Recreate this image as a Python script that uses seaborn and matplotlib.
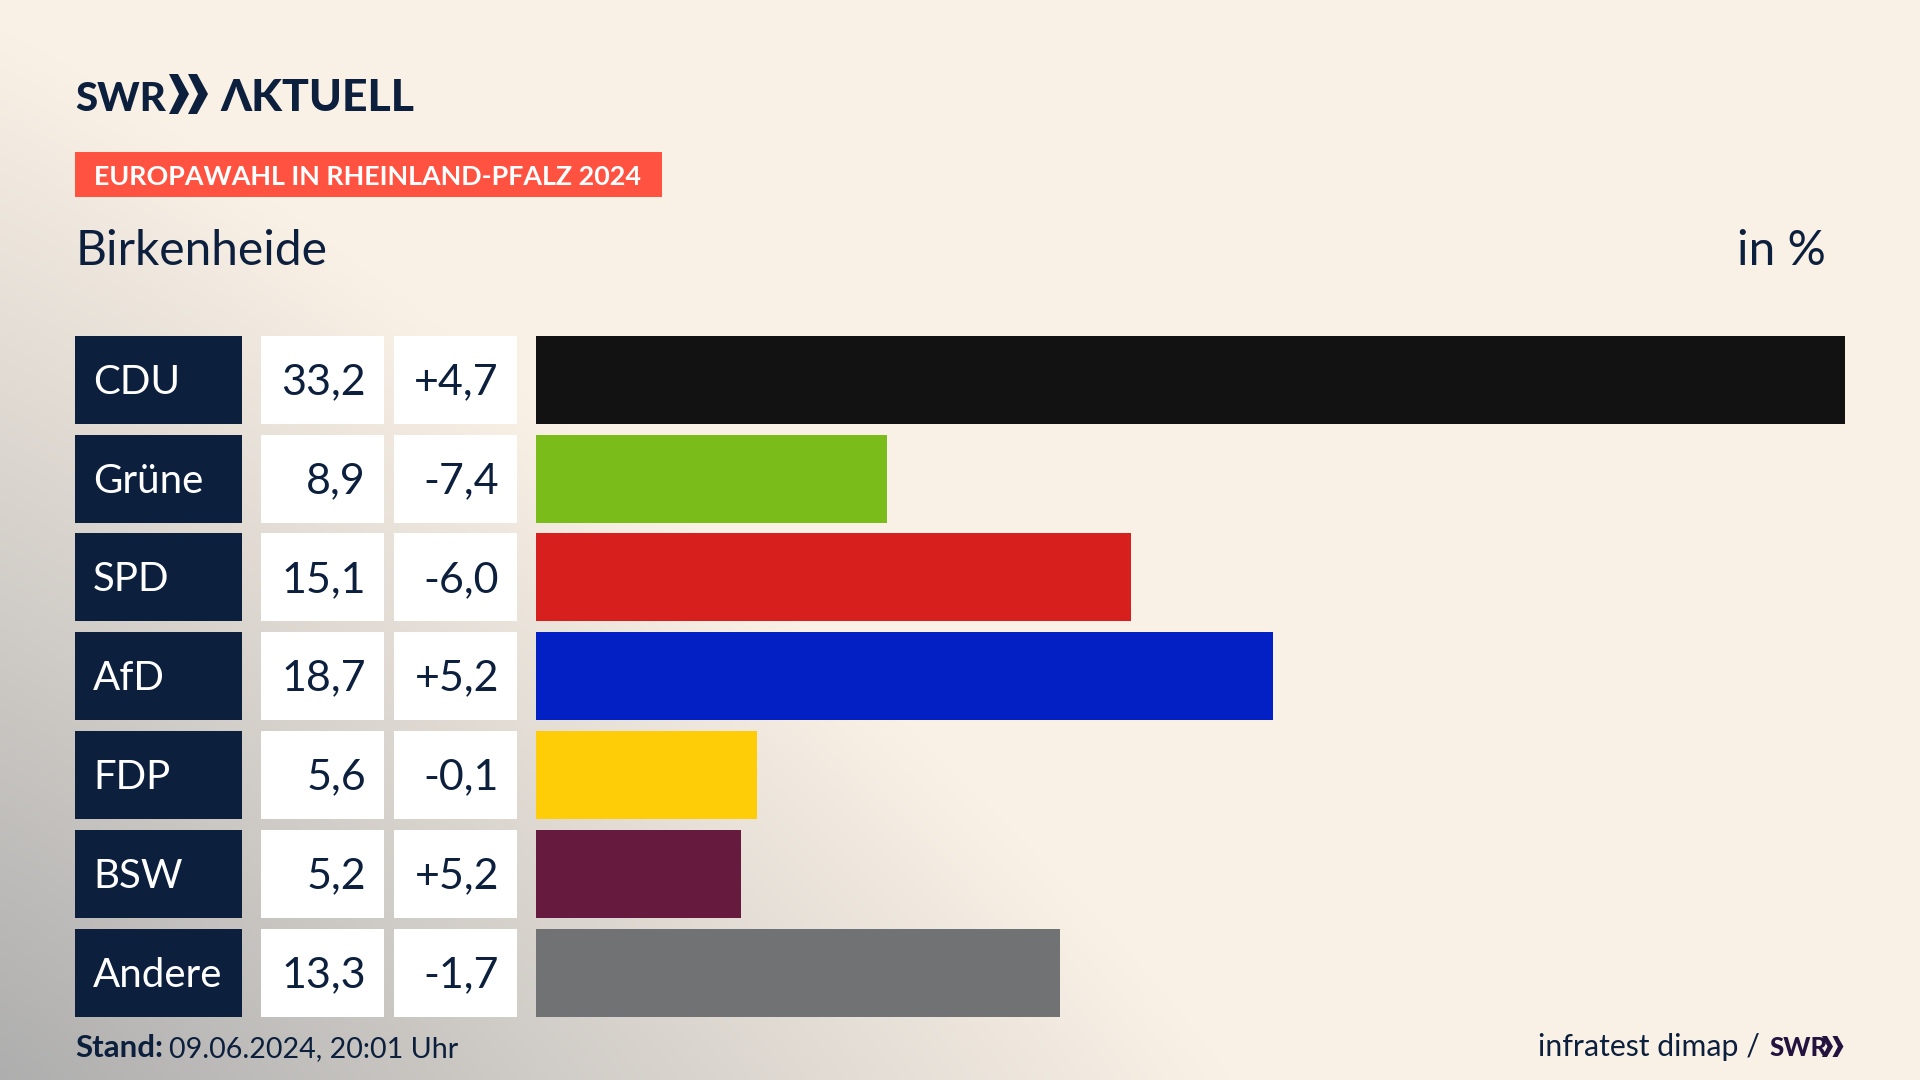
import numpy as np
import pandas as pd
import seaborn as sns
import matplotlib.pyplot as plt
from matplotlib.patches import Rectangle, Polygon

parties = ['CDU', 'Grüne', 'SPD', 'AfD', 'FDP', 'BSW', 'Andere']
results = [33.2, 8.9, 15.1, 18.7, 5.6, 5.2, 13.3]
changes = [4.7, -7.4, -6.0, 5.2, -0.1, 5.2, -1.7]
colors = ['#121212', '#7ABD1A', '#D7201E', '#0320C4', '#FFCC08', '#661A3E', '#707274']

NAVY = '#0C1F3D'
sns.set_theme(style='white')
plt.rcParams['font.family'] = ['Lato', 'DejaVu Sans']

W, H = 1920, 1080
fig = plt.figure(figsize=(W / 100, H / 100), dpi=100)

# page in pixel coordinates
page = fig.add_axes([0, 0, 1, 1])
page.set_xlim(0, W)
page.set_ylim(H, 0)
page.axis('off')

# grey glow from the bottom left corner
xx, yy = np.meshgrid(np.arange(W), np.arange(H))
dist = ((xx / 1230) ** 1.13 + ((H - yy) / 1050) ** 1.13) ** (1 / 1.13)
glow = np.clip(1 - dist, 0, 1)[..., None]
cream = np.array([250, 241, 230]) / 255
grey = np.array([174, 174, 174]) / 255
page.imshow(cream + (grey - cream) * glow, extent=(0, W, H, 0), aspect='auto', zorder=0)

ROW0, PITCH, ROW_H = 379.8, 98.8, 88


def chevrons(x, top, bottom, w, color):
    mid = (top + bottom) / 2
    for dx in (0, w * 0.95):
        page.add_patch(Polygon([(x + dx, top), (x + dx + w * 0.45, top), (x + dx + w, mid),
                                (x + dx + w * 0.45, bottom), (x + dx, bottom), (x + dx + w * 0.5, mid)],
                               closed=True, color=color, lw=0, zorder=3))


# header
page.text(75, 111, 'SWR', fontsize=29, fontweight='black', color=NAVY, va='baseline', zorder=3)
chevrons(169, 74, 114, 20, NAVY)
page.text(220, 111, 'ΛKTUELL', fontsize=32, fontweight='black', color=NAVY, va='baseline', zorder=3)
page.add_patch(Rectangle((75, 152), 587, 45, color='#FF5240', lw=0, zorder=2))
page.text(94, 175, 'EUROPAWAHL IN RHEINLAND-PFALZ 2024', fontsize=19.4, fontweight='bold',
          color='white', va='center_baseline', zorder=3)
page.text(76, 265, 'Birkenheide', fontsize=34.5, color=NAVY, va='baseline', zorder=3)
page.text(1826, 265, 'in %', fontsize=34.5, color=NAVY, ha='right', va='baseline', zorder=3)

# table cells
for i, party in enumerate(parties):
    cy = ROW0 + i * PITCH
    top = cy - ROW_H / 2
    page.add_patch(Rectangle((75, top), 167, ROW_H, color=NAVY, lw=0, zorder=2))
    page.add_patch(Rectangle((261, top), 123, ROW_H, color='white', lw=0, zorder=2))
    page.add_patch(Rectangle((394, top), 123, ROW_H, color='white', lw=0, zorder=2))
    page.text(93, cy - 1, party, fontsize=29, color='white', va='center_baseline', zorder=3)
    page.text(366, cy - 1, f'{results[i]:.1f}'.replace('.', ','), fontsize=31, color=NAVY,
              ha='right', va='center_baseline', zorder=3)
    page.text(499, cy - 1, f'{changes[i]:+.1f}'.replace('.', ','), fontsize=31, color=NAVY,
              ha='right', va='center_baseline', zorder=3)

# bars
df = pd.DataFrame({'party': parties, 'result': results})
bar_top = ROW0 - PITCH / 2
bar_bottom = ROW0 + 6.5 * PITCH
ax = fig.add_axes([536 / W, 1 - bar_bottom / H, 1309 / W, (bar_bottom - bar_top) / H])
ax.patch.set_alpha(0)
sns.barplot(data=df, y='party', x='result', hue='party', palette=colors, dodge=False,
            legend=False, width=ROW_H / PITCH, saturation=1, linewidth=0, ax=ax)
ax.set_xlim(0, max(results))
ax.set_ylim(6.5, -0.5)
ax.axis('off')

# footer
page.text(75, 1057, 'Stand:', fontsize=22.5, fontweight='bold', color=NAVY, va='baseline', zorder=3)
page.text(169, 1057, '09.06.2024, 20:01 Uhr', fontsize=20.6, color=NAVY, va='baseline', zorder=3)
page.text(1760, 1056, 'infratest dimap /', fontsize=21.8, color=NAVY, ha='right', va='baseline', zorder=3)
page.text(1769, 1056, 'SWR', fontsize=18.5, fontweight='black', color='#24123F', va='baseline', zorder=3)
chevrons(1822, 1036, 1057, 11, '#24123F')

fig.savefig('out.png', dpi=100)
